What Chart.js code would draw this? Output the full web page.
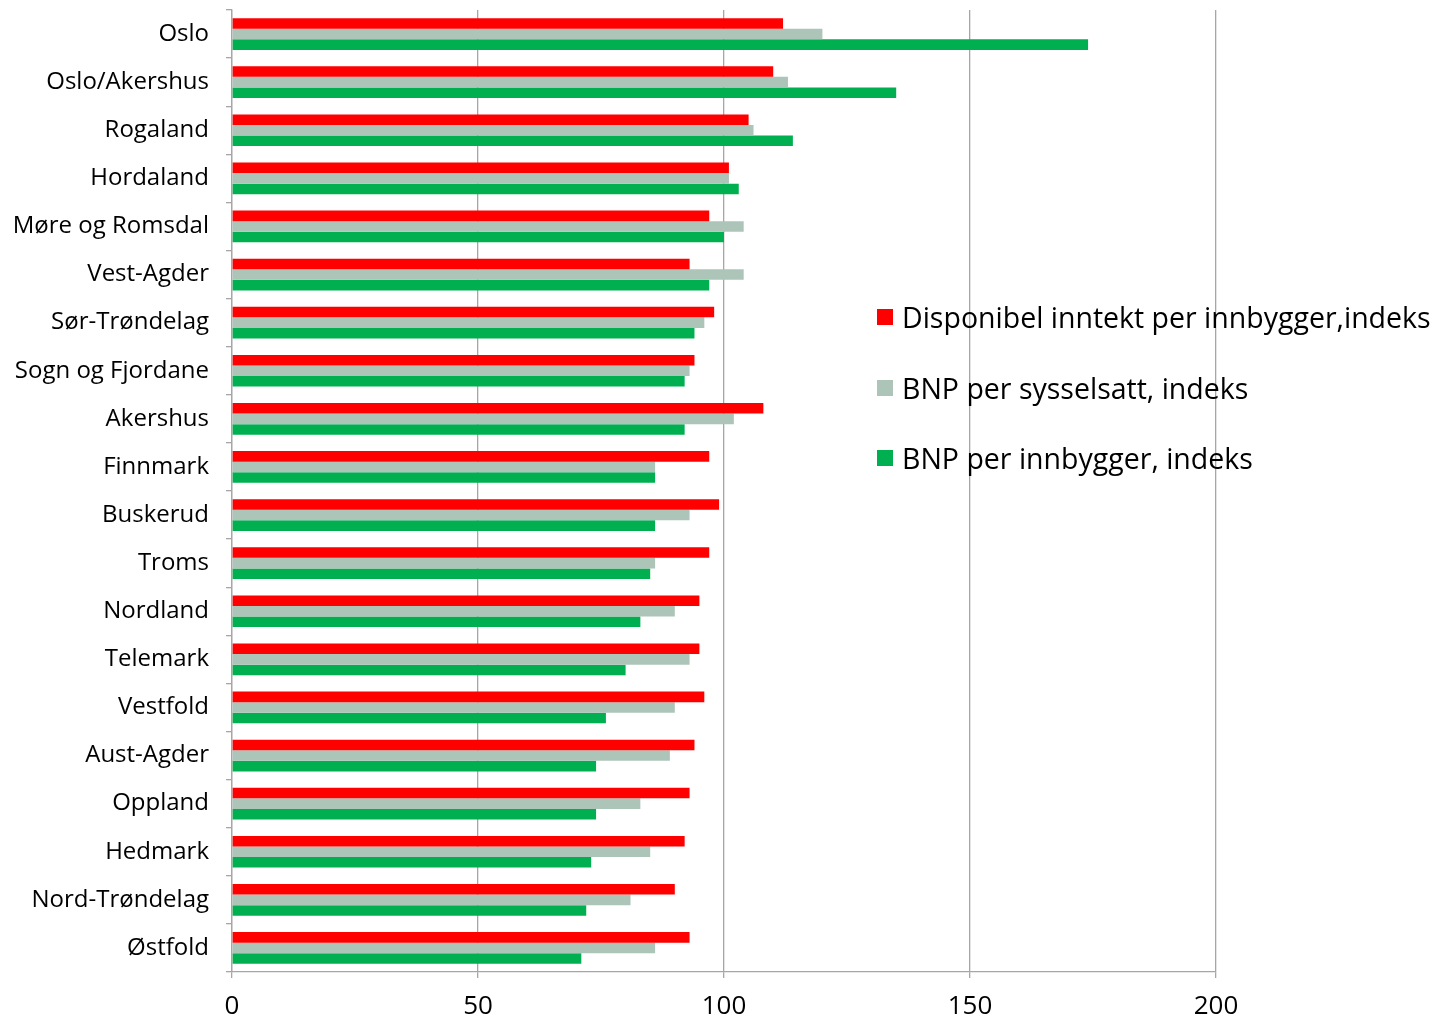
<!DOCTYPE html>
<html lang="no">
<head>
<meta charset="utf-8">
<script src="https://cdn.jsdelivr.net/npm/chart.js@4.4.1/dist/chart.umd.min.js"></script>
<style>
  html, body { margin: 0; padding: 0; background: #fff; }
  #wrap { position: relative; width: 1443px; height: 1019px; }
  #legend {
    position: absolute; left: 877px; top: 296px;
    font-family: "Open Sans", sans-serif; font-size: 28.5px; color: #000;
  }
  #legend .item { display: flex; align-items: center; height: 42px; margin-bottom: 28.5px; white-space: nowrap; }
  #legend .box { width: 16px; height: 16px; margin-right: 9px; flex: none; }
</style>
</head>
<body>
<div id="wrap">
  <canvas id="chart" width="1443" height="1019"></canvas>
  <div id="legend"></div>
</div>
<script>
const regions = ['Oslo', 'Oslo/Akershus', 'Rogaland', 'Hordaland', 'Møre og Romsdal', 'Vest-Agder',
  'Sør-Trøndelag', 'Sogn og Fjordane', 'Akershus', 'Finnmark', 'Buskerud', 'Troms', 'Nordland',
  'Telemark', 'Vestfold', 'Aust-Agder', 'Oppland', 'Hedmark', 'Nord-Trøndelag', 'Østfold'];

const disponibelInntekt = [112, 110, 105, 101, 97, 93, 98, 94, 108, 97, 99, 97, 95, 95, 96, 94, 93, 92, 90, 93];
const bnpPerSysselsatt = [120, 113, 106, 101, 104, 104, 96, 93, 102, 86, 93, 86, 90, 93, 90, 89, 83, 85, 81, 86];
const bnpPerInnbygger = [174, 135, 114, 103, 100, 97, 94, 92, 92, 86, 86, 85, 83, 80, 76, 74, 74, 73, 72, 71];

const seriesLabels = ['Disponibel inntekt per innbygger,indeks', 'BNP per sysselsatt, indeks', 'BNP per innbygger, indeks'];
const seriesColors = ['#ff0000', '#adc4b8', '#00b050'];
const xTicks = [0, 50, 100, 150, 200];

const fontFamily = '"Open Sans", sans-serif';

const datasets = [disponibelInntekt, bnpPerSysselsatt, bnpPerInnbygger].map((values, i) => ({
  label: seriesLabels[i],
  data: values,
  backgroundColor: seriesColors[i],
  borderWidth: 0,
  categoryPercentage: 0.66,
  barPercentage: 1.0
}));

new Chart(document.getElementById('chart'), {
  type: 'bar',
  data: { labels: regions, datasets: datasets },
  options: {
    indexAxis: 'y',
    responsive: false,
    animation: false,
    layout: { padding: { top: 10, right: 227, left: 0, bottom: 0 } },
    plugins: { legend: { display: false }, tooltip: { enabled: false } },
    scales: {
      x: {
        min: 0,
        max: 200,
        afterBuildTicks: scale => { scale.ticks = xTicks.map(v => ({ value: v })); },
        afterFit: scale => { scale.height = 47; scale.paddingLeft = 0; scale.paddingRight = 0; },
        grid: { color: '#a6a6a6', lineWidth: 1.3, tickLength: 6, drawTicks: true },
        border: { color: '#a6a6a6', width: 1.3 },
        ticks: { font: { family: fontFamily, size: 26 }, color: '#000', padding: 13, maxRotation: 0 }
      },
      y: {
        afterFit: scale => { scale.width = 232; scale.paddingTop = 0; scale.paddingBottom = 0; },
        grid: { drawOnChartArea: false, color: '#a6a6a6', lineWidth: 1.3, tickLength: 6, offset: true },
        border: { color: '#a6a6a6', width: 1.3 },
        ticks: { font: { family: fontFamily, size: 24 }, color: '#000', padding: 17, autoSkip: false }
      }
    }
  }
});

// legend sits over the plot area on the right
const legendEl = document.getElementById('legend');
seriesLabels.forEach((label, i) => {
  const item = document.createElement('div');
  item.className = 'item';
  item.innerHTML = `<span class="box" style="background:${seriesColors[i]}"></span><span>${label}</span>`;
  legendEl.appendChild(item);
});
</script>
</body>
</html>
